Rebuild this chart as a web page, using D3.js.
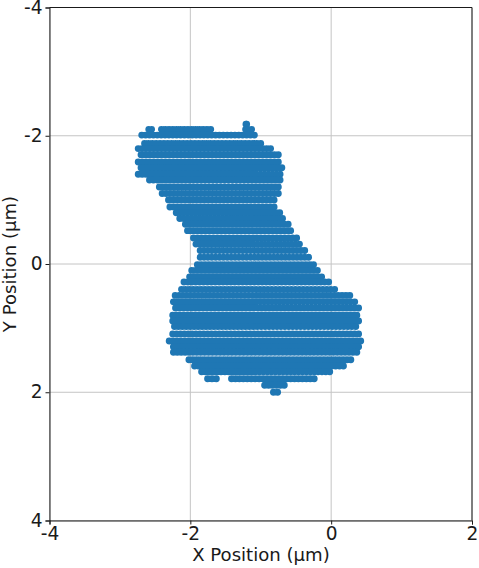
<!DOCTYPE html>
<html><head><meta charset="utf-8">
<script src="https://cdn.jsdelivr.net/npm/d3@7"></script>
<style>html,body{margin:0;padding:0;background:#fff}svg{display:block}text{font-family:"DejaVu Sans",sans-serif;fill:#1a1a1a}</style>
</head><body><svg id="c" width="479" height="568"></svg>
<script>
// Scan rows. The individual dots overlap too heavily to read
// one by one, so each row is recorded as its visible run(s): row Y, first X, last X (µm).
const rowY = [-2.18,-2.10,-2.10,-2.10,-2.01,-1.88,-1.80,-1.705,-1.59,-1.50,-1.40,-1.31,-1.20,-1.10,-1.00,-0.89,-0.80,-0.71,-0.62,-0.52,-0.405,-0.31,-0.21,-0.105,0.01,0.10,0.20,0.28,0.395,0.49,0.59,0.685,0.80,0.89,0.975,1.09,1.20,1.29,1.377,1.493,1.59,1.68,1.79,1.79,1.89,2.00];
const runStart = [-1.21,-2.59,-2.41,-1.215,-2.69,-2.65,-2.74,-2.70,-2.74,-2.70,-2.74,-2.58,-2.44,-2.40,-2.31,-2.29,-2.20,-2.15,-2.07,-2.04,-1.955,-1.92,-1.86,-1.86,-1.90,-1.98,-2.01,-2.09,-2.125,-2.215,-2.24,-2.21,-2.25,-2.25,-2.225,-2.25,-2.30,-2.24,-2.24,-2.02,-1.94,-1.84,-1.755,-1.415,-0.945,-0.82];
const runEnd = [-1.20,-2.55,-1.71,-1.13,-1.09,-1.00,-0.86,-0.75,-0.75,-0.70,-0.725,-0.725,-0.75,-0.75,-0.81,-0.81,-0.73,-0.69,-0.61,-0.575,-0.49,-0.45,-0.375,-0.32,-0.25,-0.195,-0.135,-0.035,0.05,0.265,0.335,0.39,0.365,0.39,0.35,0.39,0.42,0.39,0.365,0.28,0.175,-0.02,-1.63,-0.24,-0.665,-0.76];
const xTicks = [-4,-2,0,2];
const yTicks = [-4,-2,0,2,4];
const xLabel = "X Position (µm)", yLabel = "Y Position (µm)";

const svg = d3.select("#c");
const x = d3.scaleLinear().domain([-4,2]).range([49.5,472]);
const y = d3.scaleLinear().domain([-4,4]).range([7.5,520.5]);
const grid = svg.append("g");
xTicks.forEach(t=>grid.append("line").attr("x1",x(t)).attr("x2",x(t)).attr("y1",y.range()[0]).attr("y2",y.range()[1]).attr("stroke","#c4c4c4").attr("stroke-width",1));
yTicks.forEach(t=>grid.append("line").attr("y1",y(t)).attr("y2",y(t)).attr("x1",x.range()[0]).attr("x2",x.range()[1]).attr("stroke","#c4c4c4").attr("stroke-width",1));

const step = 3.9;
svg.append("g").selectAll("line").data(rowY).join("line")
 .attr("x1",(d,i)=>x(runStart[i])).attr("x2",(d,i)=>x(runEnd[i]))
 .attr("y1",d=>y(d)).attr("y2",d=>y(d))
 .attr("stroke","#1f77b4").attr("stroke-width",6.9).attr("stroke-linecap","round")
 .attr("stroke-dasharray","0 1")
 .attr("pathLength",(d,i)=>Math.max(1,Math.round((x(runEnd[i])-x(runStart[i]))/step))+0.01);

const ax = d3.axisBottom(x).tickValues(xTicks).tickSize(4).tickPadding(2).tickFormat(d3.format("d"));
const ay = d3.axisLeft(y).tickValues(yTicks).tickSize(4).tickPadding(3).tickFormat(d3.format("d"));
const gx = svg.append("g").attr("transform",`translate(0,${y.range()[1]})`).call(ax);
const gy = svg.append("g").attr("transform",`translate(${x.range()[0]},0)`).call(ay);
[gx,gy].forEach(g=>{g.selectAll("text").attr("font-size",18.6).style("font-family",'"DejaVu Sans"').attr("fill","#1a1a1a").text(function(){return this.textContent.replace("−","-")});
 g.selectAll("line,path").attr("stroke","#1a1a1a").attr("stroke-width",1);});
gy.selectAll("text").attr("dy","0.3em");
svg.append("line").attr("x1",x.range()[1]).attr("x2",x.range()[1]).attr("y1",y.range()[0]).attr("y2",y.range()[1]).attr("stroke","#1a1a1a");
svg.append("line").attr("x1",x.range()[0]).attr("x2",x.range()[1]).attr("y1",y.range()[0]).attr("y2",y.range()[0]).attr("stroke","#1a1a1a");
svg.append("text").attr("x",261).attr("y",561).attr("text-anchor","middle").attr("font-size",18.1).text(xLabel);
svg.append("text").attr("transform","translate(16,264) rotate(-90)").attr("text-anchor","middle").attr("font-size",18.1).text(yLabel);
</script></body></html>
